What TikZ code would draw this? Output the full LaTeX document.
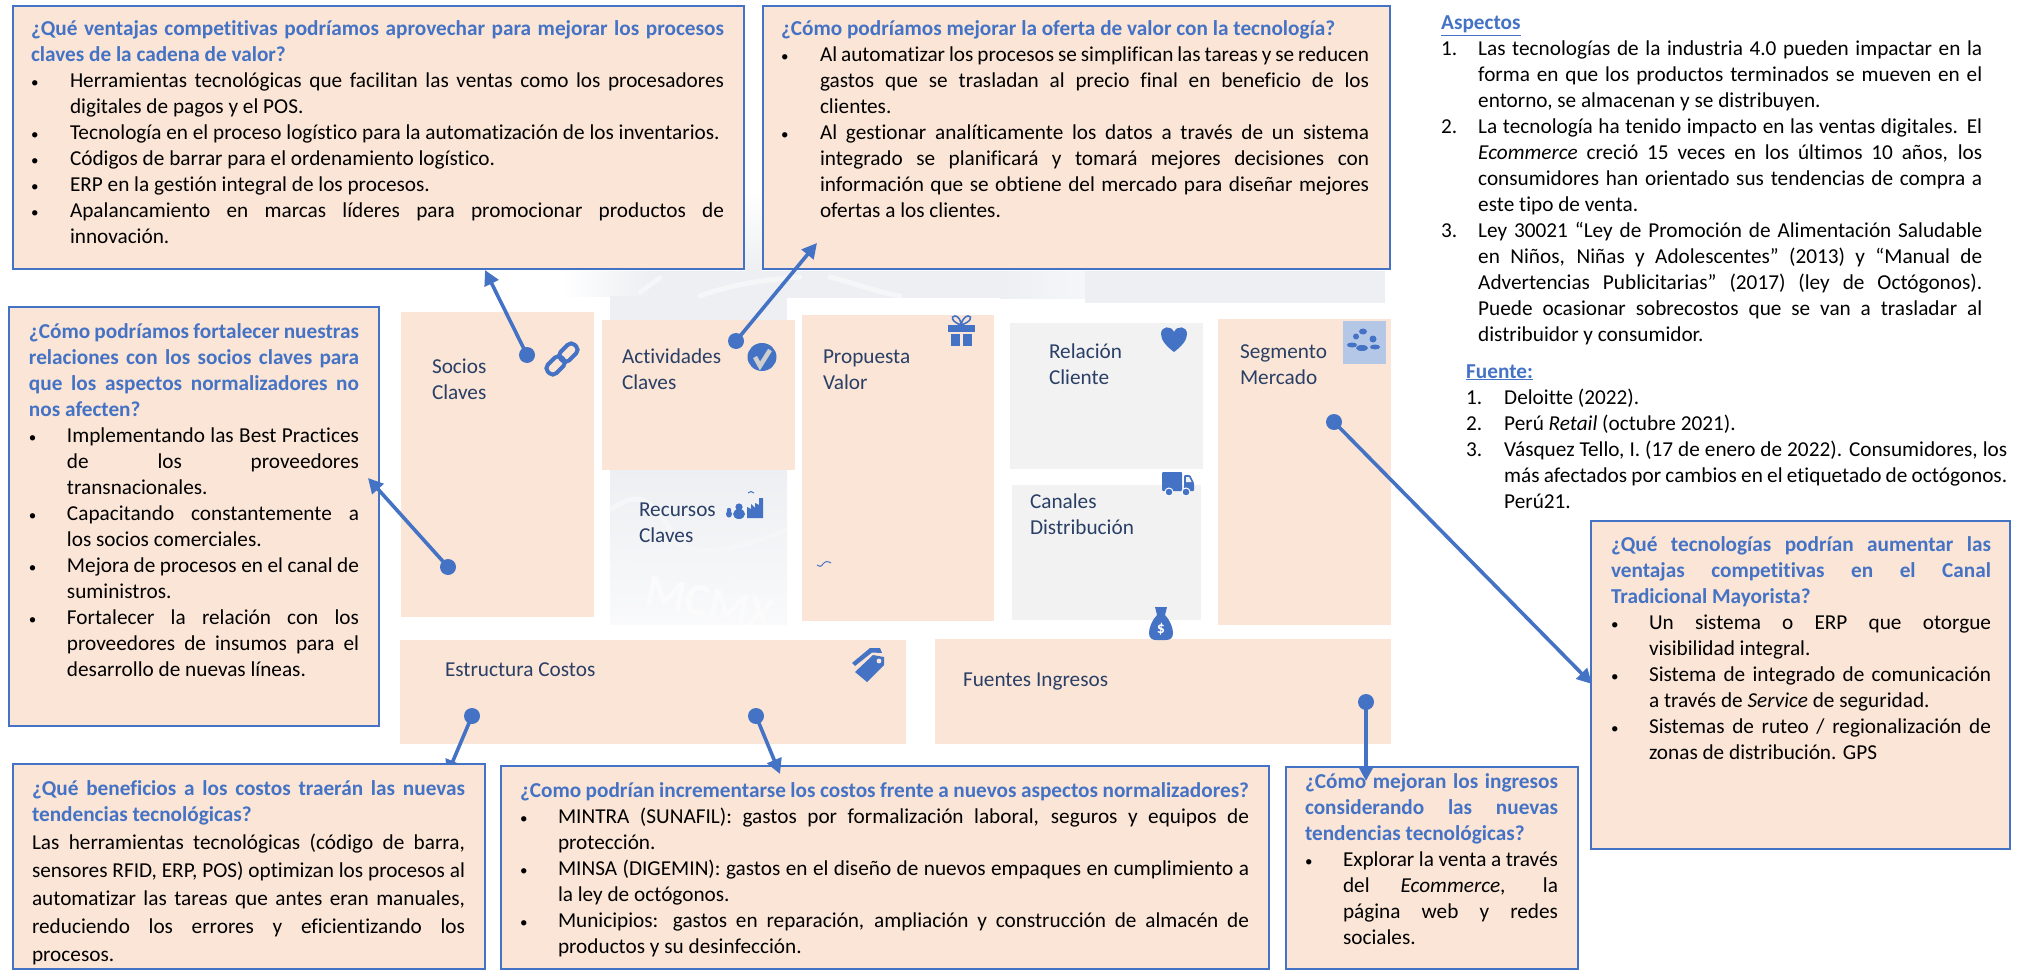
\documentclass[tikz,border=0pt]{standalone}
\usepackage{fontspec}
\setmainfont[Ligatures=NoCommon]{Carlito}
\usetikzlibrary{arrows.meta,shapes.geometric}
\definecolor{qblue}{HTML}{4472C4}
\definecolor{peach}{HTML}{FBE5D6}
\definecolor{cardgray}{HTML}{F2F2F2}
\definecolor{navy}{HTML}{2A3F66}
\definecolor{wm}{HTML}{EDEFF2}
\definecolor{wmlight}{HTML}{F5F6F8}
\definecolor{skyb}{HTML}{B4C7E7}
\newlength\itemind
\newlength\bulind
\setlength\bulind{0pt}
\newcommand\bodysize{\fontsize{21.25}{26}\selectfont}
\newcommand\qsetup{\bodysize\setlength\baselineskip{26pt}\tolerance=10000 \hbadness=10000 \hfuzz=40pt \parindent=0pt \parskip=0pt \everypar={\rule{0pt}{20pt}\everypar={}}}
\newcommand\qt[1]{\par\leftskip=0pt \noindent{\bfseries\color{qblue}#1}\par}
\newcommand\itm[1]{\par\leftskip=\itemind\noindent\llap{\makebox[\itemind][l]{\hspace{\bulind}{\fontsize{15}{26}\selectfont•}}}#1\par}
\newcommand\itmn[2]{\par\leftskip=\itemind\noindent\llap{\makebox[\itemind][l]{#1}}#2\par}
% name x1 y1 x2 y2 textleft textright firstbaseline body
\newcommand\qbox[9]{\node[qboxst,minimum width={(#4-#2)*1pt},minimum height={(#5-#3)*1pt}] (#1) at (#2,#3) {\hspace*{\dimexpr#6pt-#2pt\relax}\parbox[t][\dimexpr#5pt-#3pt\relax][t]{\dimexpr#7pt-#6pt\relax}{\qsetup\vspace*{\dimexpr#8pt-#3pt-20pt\relax}#9}\hspace*{\dimexpr#4pt-#7pt\relax}};}
% style name x1 y1 x2 y2 textleft firstbaseline body
\newcommand\cbox[9]{\node[#1,minimum width={(#5-#3)*1pt},minimum height={(#6-#4)*1pt}] (#2) at (#3,#4) {\hspace*{\dimexpr#7pt-#3pt\relax}\parbox[t][\dimexpr#6pt-#4pt\relax][t]{\dimexpr#5pt-#7pt\relax}{\qsetup\color{navy}\vspace*{\dimexpr#8pt-#4pt-20pt\relax}\noindent #9}};}
\newcommand\tbox[5]{\node[anchor=base west,inner sep=0pt] (#1) at (#2,#3) {\parbox[t]{\dimexpr#4pt-#2pt\relax}{\bodysize\setlength\baselineskip{26pt}\tolerance=10000 \hbadness=10000 \hfuzz=40pt \parindent=0pt #5}};}
\tikzset{
 qboxst/.style={draw=qblue,line width=2.4pt,fill=peach,anchor=north west,inner sep=0pt,outer sep=0pt},
 cardp/.style={fill=peach,anchor=north west,inner sep=0pt,outer sep=0pt},
 cardg/.style={fill=cardgray,anchor=north west,inner sep=0pt,outer sep=0pt},
 cardn/.style={anchor=north west,inner sep=0pt,outer sep=0pt},
 dotn/.style={circle,fill=qblue,inner sep=0pt,minimum size=16pt},
 conn/.style={draw=qblue,line width=3.6pt,-{Triangle[length=15pt,width=15pt]}},
 ico/.style={fill=qblue,draw=none},
 wmline/.style={draw=wmlight,line width=5pt,line cap=round},
}
\begin{document}
\begin{tikzpicture}[x=1pt,y=-1pt]
\useasboundingbox (0,0) rectangle (2018,971);
% watermark
\shade[left color=white,right color=wm] (560,271) rectangle (650,296);
\fill[wm] (650,271) rectangle (1080,298);
\shade[left color=wm,right color=wmlight] (1000,271) rectangle (1085,298);
\fill[wm] (1085,271) rectangle (1385,303);
\fill[wm] (610,296) rectangle (787,320);
\shade[top color=white,bottom color=wm] (745,190) rectangle (762,271);
\draw[wmline] (640,292) -- (660,278);
\draw[wmline] (700,296) .. controls (730,285) and (760,280) .. (800,277);
\draw[wmline] (830,277) .. controls (860,285) and (870,290) .. (900,296);
\begin{scope}
\clip (610,470) rectangle (787,624);
\shade[top color=wm,bottom color=wmlight!60!white] (610,470) rectangle (787,624);
\draw[wmline] (610,510) .. controls (640,490) and (650,495) .. (680,545) .. controls (710,560) and (760,540) .. (787,530);
\draw[wmline] (620,560) .. controls (680,590) and (740,585) .. (787,565);
\node[rotate=-12,text=wmlight!40!white,font=\fontsize{46}{46}\selectfont\bfseries,inner sep=0pt] (wmtext) at (710,603) {MCMX};
\end{scope}
% cards
\cbox{cardp}{socios}{401}{312}{594}{617}{432}{373}{Socios\\Claves}
\cbox{cardp}{activ}{602}{320}{795}{470}{622}{363}{Actividades\\Claves}
\cbox{cardn}{recur}{610}{470}{787}{624}{639}{516}{Recursos\\Claves}
\cbox{cardp}{prop}{802}{315}{994}{621}{823}{363}{Propuesta\\Valor}
\cbox{cardg}{relac}{1010}{323}{1203}{469}{1049}{358}{Relación\\Cliente}
\cbox{cardg}{canal}{1012}{485}{1201}{620}{1030}{508}{Canales\\Distribución}
\cbox{cardp}{segm}{1218}{319}{1391}{625}{1240}{358}{Segmento\\Mercado}
\cbox{cardp}{estr}{400}{640}{906}{744}{445}{676}{Estructura Costos}
\cbox{cardp}{fuen}{935}{639}{1391}{744}{963}{686}{Fuentes Ingresos}
% icons
\begin{scope}[shift={(562,359)},rotate=45]
\draw[qblue,line width=4pt,rounded corners=5pt] (-19,-6) rectangle (1,6);
\draw[qblue,line width=4pt,rounded corners=5pt] (-1,-6) rectangle (19,6);
\end{scope}
\fill[qblue] (762,357) ellipse [x radius=14.5pt,y radius=14pt];
\draw[cardgray!85!black,line width=4.5pt] (755,357) -- (760,366) -- (770,350);
% gift
\fill[ico] (948,325) rectangle (975,332);
\fill[ico] (951,334) rectangle (960,346);
\fill[ico] (963,334) rectangle (972,346);
\draw[qblue,line width=1.6pt] (961,325) .. controls (952,322) and (950,316) .. (955,316) .. controls (958,316) and (961,320) .. (961,325) .. controls (962,320) and (965,316) .. (968,316) .. controls (973,316) and (971,322) .. (961,325);
% heart
\fill[ico] (1174,352) .. controls (1166,346) and (1161,340) .. (1161,334) .. controls (1161,326) and (1171,325) .. (1174,332) .. controls (1177,325) and (1187,326) .. (1187,334) .. controls (1187,340) and (1182,346) .. (1174,352) -- cycle;
% truck
\fill[ico,rounded corners=1pt] (1162,472) rectangle (1182,491);
\fill[ico,rounded corners=1pt] (1184,475) -- (1190,475) -- (1194,483) -- (1194,491) -- (1184,491) -- cycle;
\fill[cardgray] (1186,477) -- (1189,477) -- (1191.5,482) -- (1186,482) -- cycle;
\fill[ico,draw=white,line width=1pt] (1169,492) circle (4pt);
\fill[ico,draw=white,line width=1pt] (1186,492) circle (4pt);
% money bag
\fill[ico] (1155,607) -- (1167,607) -- (1165,615) .. controls (1170,620) and (1173,628) .. (1173,633) .. controls (1173,638) and (1170,640) .. (1166,640) -- (1156,640) .. controls (1152,640) and (1149,638) .. (1149,633) .. controls (1149,628) and (1152,620) .. (1157,615) -- cycle;
\node[text=white,font=\fontsize{16}{16}\selectfont\bfseries,inner sep=0pt] (dollar) at (1161,629) {\$};
% group
\fill[skyb] (1343,321) rectangle (1386,364);
\fill[ico] (1363,331.5) ellipse [x radius=4pt,y radius=3pt];
\fill[ico] (1356,336.5) circle (3pt);
\fill[ico] (1373,339) circle (3.5pt);
\fill[ico] (1352,345) ellipse [x radius=5pt,y radius=2.5pt];
\fill[ico] (1362,348) ellipse [x radius=6pt,y radius=3pt];
\fill[ico] (1375,347) ellipse [x radius=5pt,y radius=2.5pt];
% tag
\fill[ico] (855,672) -- (873,655) -- (884,657) -- (884,665) -- (867,682) -- cycle;
\fill[peach] (879,661) circle (2.4pt);
\fill[ico] (852,663) -- (870,648) -- (880,648) -- (882,653) -- (872,652.5) -- (855,666) -- cycle;
% factory and people
\fill[ico] (747,518) -- (747,507) -- (751,509) -- (751,504) -- (755,508) -- (755,503) -- (759,505) -- (759,498) -- (763,498) -- (763,518) -- cycle;
\fill[ico] (739,507) circle (3.6pt);
\fill[ico] (739,514) ellipse [x radius=6pt,y radius=5pt];
\fill[ico] (729,510) circle (2.2pt);
\fill[ico] (729,514) ellipse [x radius=3pt,y radius=3.5pt];
\draw[qblue,line width=1pt] (748,493) .. controls (750,491) and (752,491) .. (754,493);
% squiggle
\draw[qblue,line width=1pt] (817,565) .. controls (819,567) and (821,567) .. (823,564) .. controls (825,561) and (828,561) .. (831,563);
% hidden-tip arrow is drawn under its box
\node[dotn] (d4) at (472,716) {};
\coordinate (t4) at (447,775);
\draw[conn] (d4.center) -- (t4);
% question boxes
\setlength\itemind{39pt}
\qbox{q1}{13}{6}{744}{269}{31}{724}{36}{%
\qt{¿Qué ventajas competitivas podríamos aprovechar para mejorar los procesos\linebreak claves de la cadena de valor?}
\itm{Herramientas tecnológicas que facilitan las ventas como los procesadores\linebreak digitales de pagos y el POS.}
\itm{Tecnología en el proceso logístico para la automatización de los inventarios.}
\itm{Códigos de barrar para el ordenamiento logístico.}
\itm{ERP en la gestión integral de los procesos.}
\itm{Apalancamiento en marcas líderes para promocionar productos de\linebreak innovación.}}
\qbox{q2}{763}{6}{1390}{269}{781}{1369}{36}{%
\qt{¿Cómo podríamos mejorar la oferta de valor con la tecnología?}
\itm{Al automatizar los procesos se simplifican las tareas y se reducen\linebreak gastos que se trasladan al precio final en beneficio de los\linebreak clientes.}
\itm{Al gestionar analíticamente los datos a través de un sistema\linebreak integrado se planificará y tomará mejores decisiones con\linebreak información que se obtiene del mercado para diseñar mejores\linebreak ofertas a los clientes.}}
\setlength\itemind{38pt}
\qbox{q3}{9}{307}{379}{726}{29}{359}{338}{%
\qt{¿Cómo podríamos fortalecer nuestras\linebreak relaciones con los socios claves para\linebreak que los aspectos normalizadores no\linebreak nos afecten?}
\itm{Implementando las Best Practices\linebreak de los proveedores\linebreak transnacionales.}
\itm{Capacitando constantemente a\linebreak los socios comerciales.}
\itm{Mejora de procesos en el canal de\linebreak suministros.}
\itm{Fortalecer la relación con los\linebreak proveedores de insumos para el\linebreak desarrollo de nuevas líneas.}}
\qbox{q4}{13}{764}{485}{969}{32}{465}{795}{%
\qt{¿Qué beneficios a los costos traerán las nuevas\linebreak tendencias tecnológicas?}
\par\leftskip=0pt \setlength\baselineskip{28pt}\noindent Las herramientas tecnológicas (código de barra,\linebreak sensores RFID, ERP, POS) optimizan los procesos al\linebreak automatizar las tareas que antes eran manuales,\linebreak reduciendo los errores y eficientizando los\linebreak procesos.\par}
\qbox{q5}{501}{766}{1269}{969}{520}{1249}{797}{%
\qt{¿Como podrían incrementarse los costos frente a nuevos aspectos normalizadores?}
\itm{MINTRA (SUNAFIL): gastos por formalización laboral, seguros y equipos de\linebreak protección.}
\itm{MINSA (DIGEMIN): gastos en el diseño de nuevos empaques en cumplimiento a\linebreak la ley de octógonos.}
\itm{Municipios: gastos en reparación, ampliación y construcción de almacén de\linebreak productos y su desinfección.}}
\qbox{q6}{1286}{767}{1578}{969}{1305}{1558}{788}{%
\qt{¿Cómo mejoran los ingresos\linebreak considerando las nuevas\linebreak tendencias tecnológicas?}
\itm{Explorar la venta a través\linebreak del \emph{Ecommerce}, la\linebreak página web y redes\linebreak sociales.}}
\qbox{q7}{1591}{521}{2010}{849}{1611}{1991}{551}{%
\qt{¿Qué tecnologías podrían aumentar las\linebreak ventajas competitivas en el Canal\linebreak Tradicional Mayorista?}
\itm{Un sistema o ERP que otorgue\linebreak visibilidad integral.}
\itm{Sistema de integrado de comunicación\linebreak a través de \emph{Service} de seguridad.}
\itm{Sistemas de ruteo / regionalización de\linebreak zonas de distribución. GPS}}
% right text
\setlength\itemind{37pt}
\tbox{asp}{1441}{30}{1982}{\noindent{\bfseries\color{qblue}\underline{Aspectos}}\par
\itmn{1.}{Las tecnologías de la industria 4.0 pueden impactar en la\linebreak forma en que los productos terminados se mueven en el\linebreak entorno, se almacenan y se distribuyen.}
\itmn{2.}{La tecnología ha tenido impacto en las ventas digitales. El\linebreak \emph{Ecommerce} creció 15 veces en los últimos 10 años, los\linebreak consumidores han orientado sus tendencias de compra a\linebreak este tipo de venta.}
\itmn{3.}{Ley 30021 “Ley de Promoción de Alimentación Saludable\linebreak en Niños, Niñas y Adolescentes” (2013) y “Manual de\linebreak Advertencias Publicitarias” (2017) (ley de Octógonos).\linebreak Puede ocasionar sobrecostos que se van a trasladar al\linebreak distribuidor y consumidor.}}
\setlength\itemind{38pt}
\tbox{fte}{1466}{378}{2007}{\noindent{\bfseries\color{qblue}\underline{Fuente:}}\par
\itmn{1.}{Deloitte (2022).}
\itmn{2.}{Perú \emph{Retail} (octubre 2021).}
\itmn{3.}{Vásquez Tello, I. (17 de enero de 2022). Consumidores, los\linebreak más afectados por cambios en el etiquetado de octógonos.\linebreak Perú21.}}
% connectors
\node[dotn] (d1) at (527,355) {};
\node[dotn] (d2) at (736,341) {};
\node[dotn] (d3) at (448,567) {};
\node[dotn] (d5) at (756,716) {};
\node[dotn] (d6) at (1366,702) {};
\node[dotn] (d7) at (1334,422) {};
\coordinate (t1) at (485,270);
\coordinate (t2) at (817,243);
\coordinate (t3) at (368,478);
\coordinate (t5) at (780,774);
\coordinate (t6) at (1366,781);
\coordinate (t7) at (1592,684);
\draw[conn] (d1.center) -- (t1);
\draw[conn] (d2.center) -- (t2);
\draw[conn] (d3.center) -- (t3);
\draw[conn] (d5.center) -- (t5);
\draw[conn] (d6.center) -- (t6);
\draw[conn] (d7.center) -- (t7);
\end{tikzpicture}
\end{document}
